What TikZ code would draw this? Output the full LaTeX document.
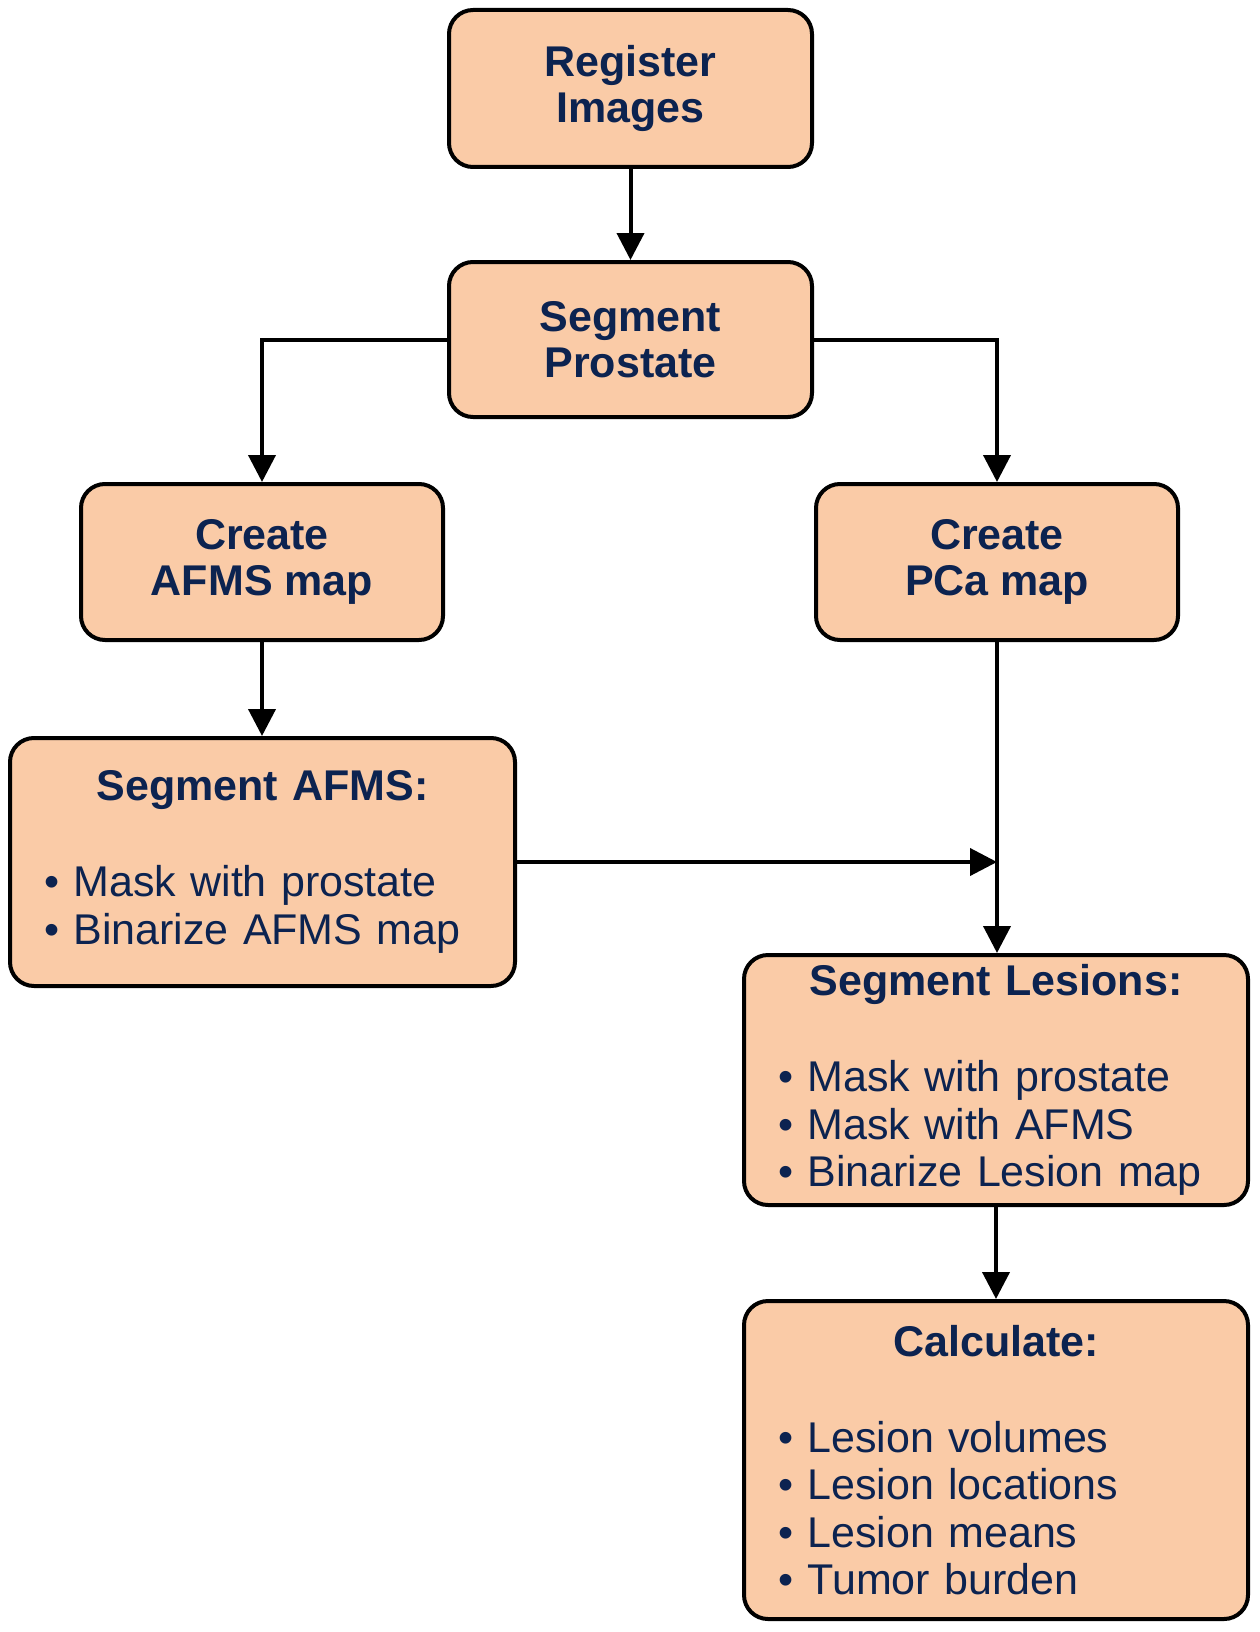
\documentclass[tikz,border=0pt]{standalone}
\usepackage{fontspec}
\setmainfont{Liberation Sans}
\usetikzlibrary{arrows.meta}

\definecolor{boxfill}{RGB}{250,203,167}
\definecolor{textnavy}{RGB}{12,35,80}

\tikzset{
  stepbox/.style={draw=black, line width=4pt, fill=boxfill, rounded corners=24pt,
    text=textnavy, minimum width=363pt, minimum height=157pt, align=center,
    font=\bfseries\fontsize{43}{46}\selectfont},
  listbox/.style={stepbox, inner xsep=34pt, text width=437pt, align=left,
    font=\fontsize{43}{47.5}\selectfont},
  flow/.style={line width=4pt, -{Triangle[length=27pt,width=27pt]}}
}
\newcommand{\boxtitle}[1]{{\centering\bfseries #1\par}\vspace{48.5pt}}

\begin{document}
\begin{tikzpicture}[x=1pt, y=1pt]
\useasboundingbox (0,0) rectangle (1260,-1632);

\node[stepbox] (reg) at (630.5,-88.5) {Register\\Images};
\node[stepbox, minimum height=155pt] (segpro) at (630.5,-339.5) {Segment\\Prostate};
\node[stepbox, minimum width=362pt, minimum height=156pt] (afmsmap) at (262,-562) {Create\\AFMS map};
\node[stepbox, minimum width=362pt, minimum height=156pt] (pcamap) at (997,-562) {Create\\PCa map};

\node[listbox, minimum height=248pt] (segafms) at (262.5,-862) {\boxtitle{Segment AFMS:}%
• Mask with prostate\\
• Binarize AFMS map};
\node[listbox, text width=436pt, minimum height=250pt] (seglesion) at (996,-1080) {\boxtitle{Segment Lesions:}%
• Mask with prostate\\
• Mask with AFMS\\
• Binarize Lesion map};
\node[listbox, text width=436pt, minimum height=318pt] (calc) at (996,-1460) {\boxtitle{Calculate:}%
• Lesion volumes\\
• Lesion locations\\
• Lesion means\\
• Tumor burden};

\draw[flow] (reg) -- (segpro);
\draw[flow] (segpro.west) -| (afmsmap.north);
\draw[flow] (segpro.east) -| (pcamap.north);
\draw[flow] (afmsmap.south) -- (afmsmap.south |- segafms.north);
\draw[flow] (pcamap.south) -- (pcamap.south |- seglesion.north);
\draw[flow] (segafms.east) -- (segafms.east -| pcamap.south);
\draw[flow] (seglesion.south) -- (seglesion.south |- calc.north);
\end{tikzpicture}
\end{document}
